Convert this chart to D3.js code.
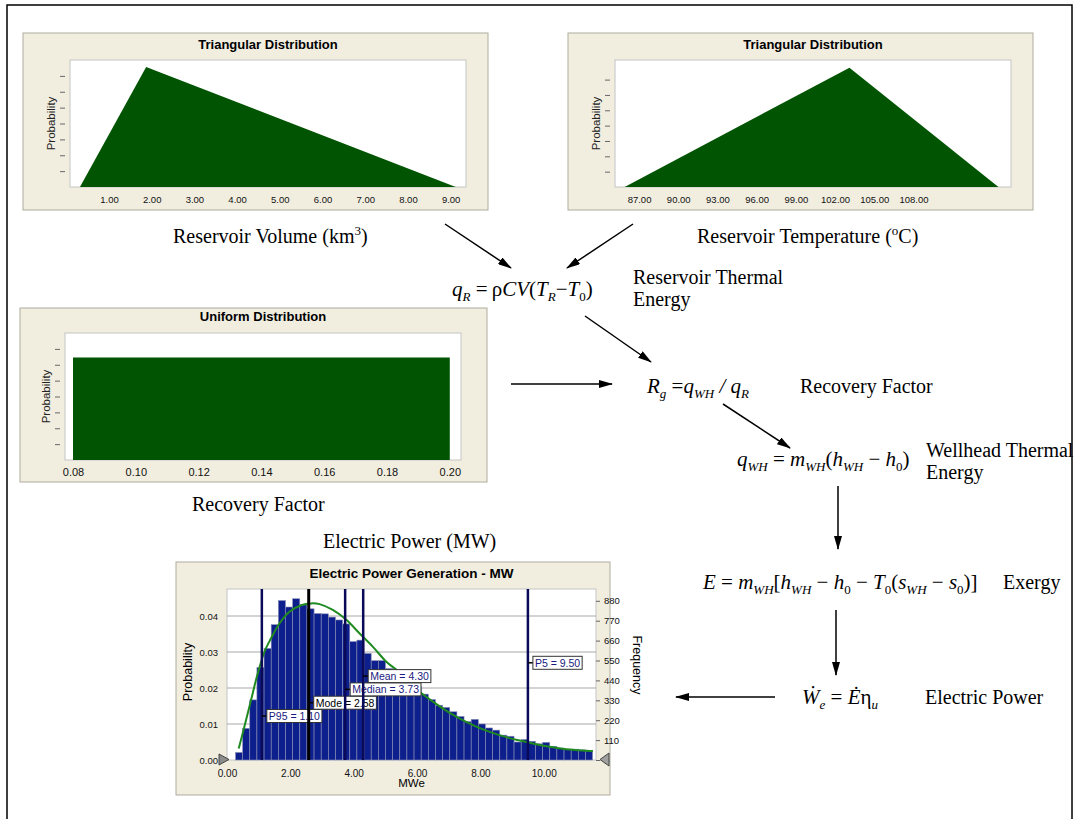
<!DOCTYPE html>
<html>
<head>
<meta charset="utf-8">
<script src="https://cdn.jsdelivr.net/npm/d3@7"></script>
<style>
	body { margin: 0; background: #fff; }
	svg text { font-family: "Liberation Sans", Arial, sans-serif; }
	svg text.serif { font-family: "Liberation Serif", "Times New Roman", serif; white-space: pre; }
</style>
</head>
<body>
<svg id="fig" width="1077" height="819"></svg>
<script>
// reservoir volume, triangular (km3)
var volPoints = [0.32, 1.87, 9.12];
var volProb = [0, 0.227, 0];
var volTicks = [1, 2, 3, 4, 5, 6, 7, 8, 9];
var volYTicks = [0.03, 0.06, 0.09, 0.12, 0.15, 0.18, 0.21];

// reservoir temperature, triangular (C)
var tempPoints = [85.9, 103.1, 114.5];
var tempProb = [0, 0.07, 0];
var tempTicks = [87, 90, 93, 96, 99, 102, 105, 108];
var tempYTicks = [0.009, 0.018, 0.027, 0.036, 0.045, 0.054, 0.063];

// recovery factor, uniform
var recPoints = [0.08, 0.20];
var recProb = [8.4, 8.4];
var recTicks = [0.08, 0.10, 0.12, 0.14, 0.16, 0.18, 0.20];
var recYTicks = [1.3, 2.6, 3.9, 5.2, 6.5, 7.8, 9.1];

// electric power forecast histogram
var binStart = 0.268;
var binWidth = 0.2255;
var powerProb = [0.0021, 0.0088, 0.0167, 0.0257, 0.0310, 0.0376, 0.0443, 0.0425, 0.0448, 0.0431,
	0.0420, 0.0407, 0.0406, 0.0397, 0.0389, 0.0378, 0.0329, 0.0333, 0.0296, 0.0276,
	0.0276, 0.0254, 0.0244, 0.0231, 0.0216, 0.0204, 0.0183, 0.0168, 0.0152, 0.0146,
	0.0134, 0.0121, 0.0107, 0.0113, 0.0100, 0.0089, 0.0083, 0.0069, 0.0066, 0.0050,
	0.0057, 0.0052, 0.0045, 0.0049, 0.0038, 0.0033, 0.0030, 0.0030, 0.0028, 0.0026
];
var fitX = [0.37, 0.55, 0.76, 0.97, 1.18, 1.39, 1.66, 1.97, 2.34, 2.66, 2.92, 3.34, 3.76, 4.18,
	4.6, 5.03, 5.45, 5.87, 6.5, 7.03, 7.55, 8.08, 8.6, 9.13, 9.66, 10.18, 10.71, 11.34, 11.55];
var fitProb = [0.0032, 0.0093, 0.0167, 0.024, 0.030, 0.0338, 0.038, 0.0412, 0.043, 0.0435, 0.0433,
	0.0417, 0.039, 0.0352, 0.0315, 0.0273, 0.0243, 0.0205, 0.0162, 0.0131, 0.0106, 0.0085,
	0.0069, 0.0056, 0.0046, 0.0037, 0.0030, 0.0026, 0.0025];
var powerTicks = [0, 2, 4, 6, 8, 10];
var probTicks = [0, 0.01, 0.02, 0.03, 0.04];
var freqTicks = [0, 110, 220, 330, 440, 550, 660, 770, 880];
var trials = 19900;
var statNames = ["P95", "Mode", "Median", "Mean", "P5"];
var statValues = [1.10, 2.58, 3.73, 4.30, 9.50];

var svg = d3.select("#fig");
var beige = "#f1eee0";
var green = "#015401";
var navy = "#0d1f8c";

svg.append("rect")
	.attr("x", 7).attr("y", 5)
	.attr("width", 1065).attr("height", 840)
	.attr("fill", "none")
	.attr("stroke", "#000")
	.attr("stroke-width", 1.5);

function distChart(cfg) {
	var p = cfg.plot;
	var g = svg.append("g");
	g.append("rect")
		.attr("x", cfg.box[0]).attr("y", cfg.box[1])
		.attr("width", cfg.box[2]).attr("height", cfg.box[3])
		.attr("fill", beige)
		.attr("stroke", "#aeab9e");
	g.append("rect")
		.attr("x", p[0]).attr("y", p[1])
		.attr("width", p[2]).attr("height", p[3])
		.attr("fill", "#fff")
		.attr("stroke", "#c4c4c4");
	g.append("text")
		.attr("x", p[0] + p[2] / 2)
		.attr("y", cfg.titleY)
		.attr("text-anchor", "middle")
		.attr("font-size", 13)
		.attr("font-weight", "bold")
		.text(cfg.title);

	var x = d3.scaleLinear().domain(cfg.xDomain).range([p[0], p[0] + p[2]]);
	var y = d3.scaleLinear().domain(cfg.yDomain).range([p[1] + p[3], p[1]]);

	var pts = cfg.xs.map(function(d, i) { return [d, cfg.ps[i]]; });
	var area = d3.area()
		.x(function(d) { return x(d[0]); })
		.y0(y(0))
		.y1(function(d) { return y(d[1]); });
	g.append("path")
		.datum(pts)
		.attr("d", area)
		.attr("fill", green);

	var xAxis = g.append("g")
		.attr("transform", "translate(0," + (p[1] + p[3]) + ")")
		.call(d3.axisBottom(x).tickValues(cfg.xTicks).tickFormat(d3.format(".2f")).tickSize(0).tickPadding(cfg.labelPad));
	xAxis.select(".domain").remove();
	xAxis.selectAll("text")
		.attr("font-size", cfg.labelSize)
		.attr("font-family", "Liberation Sans, Arial, sans-serif")
		.attr("fill", "#111");

	var yAxis = g.append("g")
		.attr("transform", "translate(" + (p[0] - 5) + ",0)")
		.call(d3.axisLeft(y).tickValues(cfg.yTicks).tickFormat("").tickSize(5));
	yAxis.select(".domain").remove();
	yAxis.selectAll("line").attr("stroke", "#666");

	g.append("text")
		.attr("transform", "translate(" + (p[0] - 15) + "," + (p[1] + p[3] / 2) + ") rotate(-90)")
		.attr("text-anchor", "middle")
		.attr("font-size", 11.5)
		.attr("fill", "#222")
		.text("Probability");
}

distChart({
	box: [23, 33, 465, 177], plot: [70, 60, 396, 127], titleY: 49,
	title: "Triangular Distribution",
	xDomain: [0.087, 9.36], yDomain: [0, 0.24],
	xs: volPoints, ps: volProb, xTicks: volTicks, yTicks: volYTicks,
	labelSize: 9.5, labelPad: 9
});

distChart({
	box: [568, 33, 465, 177], plot: [615, 60, 396, 127], titleY: 49,
	title: "Triangular Distribution",
	xDomain: [85.16, 115.46], yDomain: [0, 0.0745],
	xs: tempPoints, ps: tempProb, xTicks: tempTicks, yTicks: tempYTicks,
	labelSize: 9.5, labelPad: 9
});

distChart({
	box: [20, 308, 467, 174], plot: [65, 333, 396, 127], titleY: 321,
	title: "Uniform Distribution",
	xDomain: [0.07745, 0.20357], yDomain: [0, 10.4],
	xs: recPoints, ps: recProb, xTicks: recTicks, yTicks: recYTicks,
	labelSize: 11, labelPad: 8
});

// ---- forecast histogram ----
var hp = [227, 589, 369, 171];
var hg = svg.append("g");
hg.append("rect")
	.attr("x", 176).attr("y", 562)
	.attr("width", 434).attr("height", 233)
	.attr("fill", beige)
	.attr("stroke", "#aeab9e");
hg.append("rect")
	.attr("x", hp[0]).attr("y", hp[1])
	.attr("width", hp[2]).attr("height", hp[3])
	.attr("fill", "#fff")
	.attr("stroke", "#c4c4c4");
hg.append("text")
	.attr("x", hp[0] + hp[2] / 2).attr("y", 578)
	.attr("text-anchor", "middle")
	.attr("font-size", 13.5)
	.attr("font-weight", "bold")
	.text("Electric Power Generation - MW");

var hx = d3.scaleLinear().domain([0, 11.65]).range([hp[0], hp[0] + hp[2]]);
var hy = d3.scaleLinear().domain([0, 0.0475]).range([hp[1] + hp[3], hp[1]]);
var hf = d3.scaleLinear().domain([0, 0.0475 * trials]).range([hp[1] + hp[3], hp[1]]);

hg.selectAll(".grid")
	.data(probTicks.slice(1))
	.enter()
	.append("line")
	.attr("class", "grid")
	.attr("x1", hp[0]).attr("x2", hp[0] + hp[2])
	.attr("y1", d => hy(d)).attr("y2", d => hy(d))
	.attr("stroke", "#a8a8a8");

hg.selectAll(".bar")
	.data(powerProb)
	.enter()
	.append("rect")
	.attr("class", "bar")
	.attr("x", (d, i) => hx(binStart + i * binWidth))
	.attr("width", hx(binWidth) - hx(0))
	.attr("y", d => hy(d))
	.attr("height", d => hy(0) - hy(d))
	.attr("fill", navy)
	.attr("stroke", "#8a90b4")
	.attr("stroke-width", 0.6);

var fit = d3.line()
	.x(d => hx(d[0]))
	.y(d => hy(d[1]))
	.curve(d3.curveCatmullRom);
hg.append("path")
	.datum(fitX.map((d, i) => [d, fitProb[i]]))
	.attr("d", fit)
	.attr("fill", "none")
	.attr("stroke", "#1f8a1f")
	.attr("stroke-width", 2);

statValues.forEach(function(v, i) {
	var isMode = statNames[i] == "Mode";
	var xv = hx(v);
	var ly = hp[1] + hp[3] - 44 - i * 13.3;
	hg.append("line")
		.attr("x1", xv).attr("x2", xv)
		.attr("y1", hp[1]).attr("y2", hp[1] + hp[3])
		.attr("stroke", isMode ? "#000" : "#0a0a58")
		.attr("stroke-width", isMode ? 3 : 2.5);
	hg.append("line")
		.attr("x1", xv).attr("x2", xv + 5)
		.attr("y1", ly).attr("y2", ly)
		.attr("stroke", "#000")
		.attr("stroke-width", 1.5);
	var box = hg.append("rect")
		.attr("x", xv + 5).attr("y", ly - 6.5)
		.attr("height", 13)
		.attr("fill", "#fff")
		.attr("stroke", "#333");
	var t = hg.append("text")
		.attr("x", xv + 7).attr("y", ly + 4)
		.attr("font-size", 10.5)
		.attr("fill", isMode ? "#000" : "#1a1a80")
		.text(statNames[i] + " = " + v.toFixed(2));
	box.attr("width", t.node().getComputedTextLength() + 4);
});

var hxAxis = hg.append("g")
	.attr("transform", "translate(0," + (hp[1] + hp[3]) + ")")
	.call(d3.axisBottom(hx).tickValues(powerTicks).tickFormat(d3.format(".2f")).tickSize(0).tickPadding(10));
hxAxis.select(".domain").remove();
hxAxis.selectAll("text").attr("font-size", 10).attr("fill", "#111");

var hyAxis = hg.append("g")
	.attr("transform", "translate(" + hp[0] + ",0)")
	.call(d3.axisLeft(hy).tickValues(probTicks).tickFormat(d3.format(".2f")).tickSize(0).tickPadding(9));
hyAxis.select(".domain").remove();
hyAxis.selectAll("text").attr("font-size", 9.5).attr("fill", "#111");

var hfAxis = hg.append("g")
	.attr("transform", "translate(" + (hp[0] + hp[2]) + ",0)")
	.call(d3.axisRight(hf).tickValues(freqTicks).tickSize(4).tickPadding(4));
hfAxis.select(".domain").remove();
hfAxis.selectAll("line").attr("stroke", "#666");
hfAxis.selectAll("text").attr("font-size", 9.5).attr("fill", "#111");

hg.append("text")
	.attr("transform", "translate(192,672) rotate(-90)")
	.attr("text-anchor", "middle")
	.attr("font-size", 12.5)
	.text("Probability");
hg.append("text")
	.attr("transform", "translate(633,665) rotate(90)")
	.attr("text-anchor", "middle")
	.attr("font-size", 12.5)
	.text("Frequency");
hg.append("text")
	.attr("x", hp[0] + hp[2] / 2).attr("y", 787)
	.attr("text-anchor", "middle")
	.attr("font-size", 11.5)
	.text("MWe");

hg.append("path")
	.attr("d", "M219,754L219,765L229,759.5Z")
	.attr("fill", "#8c8c8c").attr("stroke", "#444");
hg.append("path")
	.attr("d", "M609,753L609,766L600,759.5Z")
	.attr("fill", "#a0a0a0").attr("stroke", "#444");

// ---- flow diagram ----
svg.append("defs").append("marker")
	.attr("id", "head")
	.attr("viewBox", "0 0 14 8")
	.attr("refX", 13).attr("refY", 4)
	.attr("markerWidth", 14).attr("markerHeight", 8)
	.attr("markerUnits", "userSpaceOnUse")
	.attr("orient", "auto")
	.append("path")
	.attr("d", "M0,0L14,4L0,8Z")
	.attr("fill", "#000");

var arrows = [
	[445, 224, 511, 268], [633, 224, 567, 268], [585, 316, 651, 362],
	[511, 384, 612, 384], [723, 404, 790, 448], [838, 486, 838, 549],
	[836, 610, 836, 675], [775, 697, 676, 697]
];
arrows.forEach(function(a) {
	svg.append("line")
		.attr("x1", a[0]).attr("y1", a[1])
		.attr("x2", a[2]).attr("y2", a[3])
		.attr("stroke", "#000")
		.attr("stroke-width", 1.5)
		.attr("marker-end", "url(#head)");
});

function label(x, y, lines) {
	lines.forEach(function(l, i) {
		svg.append("text")
			.attr("class", "serif")
			.attr("x", x).attr("y", y + i * 22)
			.attr("font-size", 20)
			.text(l);
	});
}

function formula(x, y, parts, size) {
	size = size || 21;
	var t = svg.append("text")
		.attr("class", "serif")
		.attr("x", x).attr("y", y)
		.attr("font-size", size);
	var shift = 0;
	parts.forEach(function(p) {
		var st = p[1] || "";
		var want = st.indexOf("_") >= 0 ? 5 : (st.indexOf("^") >= 0 ? -8 : 0);
		var ts = t.append("tspan").text(p[0]).attr("dy", want - shift);
		shift = want;
		if (st.indexOf("i") >= 0) ts.attr("font-style", "italic");
		if (want != 0) ts.attr("font-size", Math.round(size * 0.63));
	});
}

formula(173, 243, [["Reservoir Volume (km"], ["3", "^"], [")"]], 20);
formula(697, 243, [["Reservoir Temperature ("], ["o", "^"], ["C)"]], 20);

formula(452, 296, [["q", "i"], ["R", "i_"], [" =\u2009ρ"], ["CV", "i"], ["("], ["T", "i"], ["R", "i_"],
	["−"], ["T", "i"], ["0", "_"], [")"]]);
label(633, 284, ["Reservoir Thermal", "Energy"]);

formula(647, 393, [["R", "i"], ["g", "i_"], [" ="], ["q", "i"], ["WH", "i_"], [" / ", "i"], ["q", "i"], ["R", "i_"]]);
label(800, 393, ["Recovery Factor"]);

formula(737, 466, [["q", "i"], ["WH", "i_"], [" = "], ["m", "i"], ["WH", "i_"], ["("], ["h", "i"], ["WH", "i_"],
	[" − "], ["h", "i"], ["0", "_"], [")"]]);
label(926, 457, ["Wellhead Thermal", "Energy"]);

formula(703, 589, [["E", "i"], [" = "], ["m", "i"], ["WH", "i_"], ["["], ["h", "i"], ["WH", "i_"], [" − "],
	["h", "i"], ["0", "_"], [" − "], ["T", "i"], ["0", "_"], ["("], ["s", "i"], ["WH", "i_"], [" − "],
	["s", "i"], ["0", "_"], [")]"]]);
label(1003, 589, ["Exergy"]);

formula(802, 704, [["Ẇ", "i"], ["e", "i_"], [" = "], ["Ė", "i"], ["η"], ["u", "i_"]]);
label(925, 704, ["Electric Power"]);

label(192, 511, ["Recovery Factor"]);
label(323, 548, ["Electric Power (MW)"]);
</script>
</body>
</html>
